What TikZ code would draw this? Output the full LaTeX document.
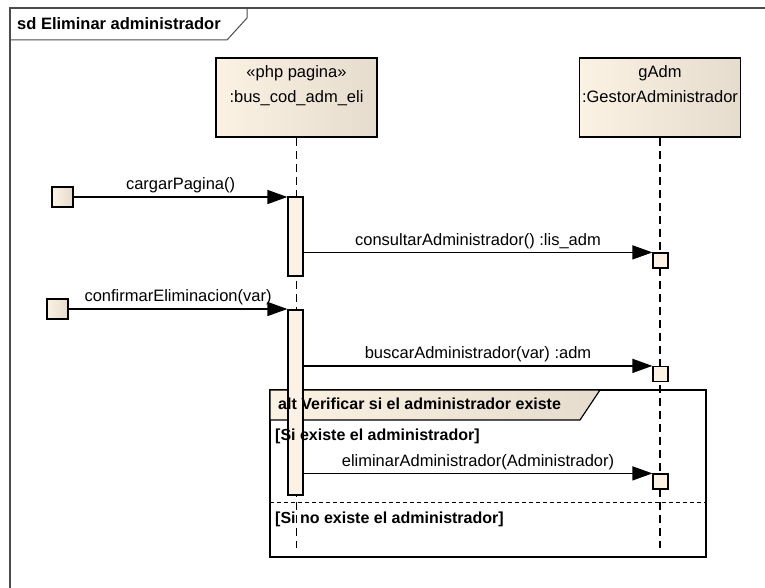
\documentclass[tikz,border=0pt]{standalone}
\usepackage{fontspec}
\setmainfont{Liberation Sans}
\usetikzlibrary{arrows.meta}
\definecolor{umlbeige}{HTML}{FBF2E4}
\definecolor{umlbeigedark}{HTML}{E6DCCE}
\begin{document}
\begin{tikzpicture}[x=1pt,y=-1pt,
    txt/.style={font=\fontsize{16.5}{19}\selectfont, inner sep=1pt},
    boldtxt/.style={font=\fontsize{16}{19}\selectfont\bfseries, inner sep=1pt},
    boxtxt/.style={font=\fontsize{16.5}{25}\selectfont, align=center, anchor=north, inner sep=0pt},
    lifebox/.style={draw, line width=1.6pt, minimum width=161pt, minimum height=79pt, left color=umlbeige, right color=umlbeigedark, inner sep=0pt},
    actbar/.style={draw, line width=1.2pt, fill=umlbeige, minimum width=15pt, inner sep=0pt},
    actsq/.style={draw, line width=1.2pt, fill=umlbeige, minimum size=15pt, inner sep=0pt},
    found/.style={draw, line width=1.5pt, left color=umlbeige, right color=umlbeigedark, minimum width=21pt, minimum height=20pt, inner sep=0pt},
    lifeline/.style={line width=1.5pt, dash pattern=on 8pt off 5pt},
    msg/.style={line width=1.4pt, -{Triangle[length=20pt,width=14pt]}}]
    \useasboundingbox (0,0) rectangle (765,588);
    % frame
    \draw[line width=1.2pt, black!70] (10,588) -- (10,8) -- (765,8);
    \draw[line width=1pt, black!70] (10,40) -- (227,40) -- (247,18) -- (247,8);
    \node[boldtxt, font=\fontsize{16.5}{19}\selectfont\bfseries, anchor=west] (title) at (16,24) {sd Eliminar administrador};
    % alt fragment
    \draw[line width=1.5pt] (270,390) rectangle (706,557);
    \draw[line width=1.2pt, left color=umlbeige, right color=umlbeigedark] (270,390) -- (600,390) -- (580,420) -- (270,420) -- cycle;
    \draw[line width=1pt, dash pattern=on 4pt off 3pt] (270,502) -- (706,502);
    % lifelines
    \node[lifebox] (pag) at (296.5,97.5) {};
    \node[boxtxt] (pagtxt) at (296.5,65) {«php pagina»\\:bus\_cod\_adm\_eli};
    \node[lifebox] (gadm) at (660,97.5) {};
    \node[boxtxt] (gadmtxt) at (660,65) {gAdm\\:GestorAdministrador};
    \coordinate (pagend) at (296.5,548);
    \coordinate (gadmend) at (660,548);
    \draw[lifeline] (pag) -- (pagend);
    \draw[lifeline] (gadm) -- (gadmend);
    % activations
    \node[found] (f1) at (62.5,197) {};
    \node[found] (f2) at (57.5,309) {};
    \node[actbar, minimum height=79pt] (act1) at (295.5,236.5) {};
    \node[actbar, minimum height=185pt] (act2) at (295.5,402.5) {};
    \node[actsq] (r1) at (660.5,260.5) {};
    \node[actsq] (r2) at (660.5,374) {};
    \node[actsq] (r3) at (660.5,481.5) {};
    % messages
    \draw[msg] (f1) -- (f1 -| act1.west) node[txt, midway, above=2pt] {cargarPagina()};
    \draw[msg] (f2) -- (f2 -| act2.west) node[txt, midway, above=2pt] {confirmarEliminacion(var)};
    \draw[msg] (r1.north west -| act1.east) -- (r1.north west) node[txt, midway, above=2pt] {consultarAdministrador() :lis\_adm};
    \draw[msg] (r2.north west -| act2.east) -- (r2.north west) node[txt, midway, above=2pt] {buscarAdministrador(var) :adm};
    \draw[msg] (r3.north west -| act2.east) -- (r3.north west) node[txt, midway, above=2pt] {eliminarAdministrador(Administrador)};
    % guards
    \node[boldtxt, anchor=west] (altlbl) at (277,404) {alt Verificar si el administrador existe};
    \node[boldtxt, anchor=west] (guard1) at (274,436) {[Si existe el administrador]};
    \node[boldtxt, anchor=west] (guard2) at (274,519) {[Si no existe el administrador]};
\end{tikzpicture}
\end{document}
